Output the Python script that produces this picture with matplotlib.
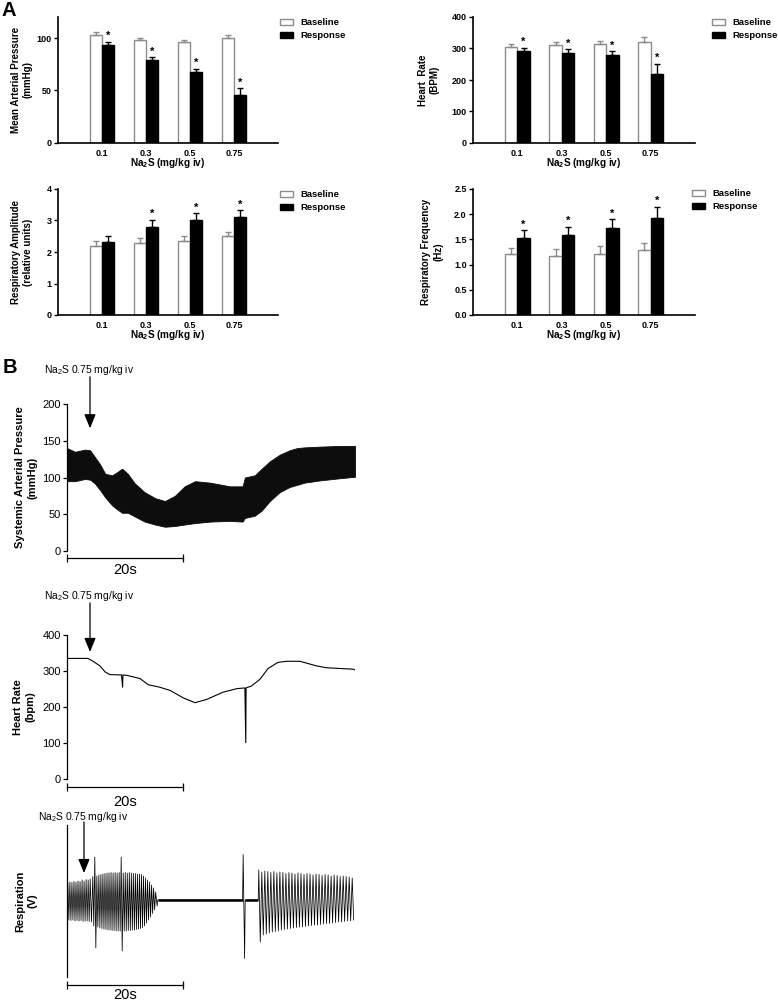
import numpy as np
import matplotlib
matplotlib.use("Agg")
import matplotlib.pyplot as plt

plt.rcParams["font.family"] = ["Liberation Sans", "DejaVu Sans"]
plt.rcParams["mathtext.fontset"] = "custom"
plt.rcParams["mathtext.rm"] = "Liberation Sans"
plt.rcParams["mathtext.bf"] = "Liberation Sans:bold"
plt.rcParams["mathtext.default"] = "regular"

# ---- Panel A data (mean, upper SEM) ----
doses = ["0.1", "0.3", "0.5", "0.75"]

map_base = [103, 98, 96, 100]
map_base_err = [3, 2, 2, 2.5]
map_resp = [93, 79.5, 67.5, 46]
map_resp_err = [3.5, 2, 3, 6]
map_sig = [True, True, True, True]

hr_base = [305, 310, 313, 320]
hr_base_err = [8, 10, 10, 15]
hr_resp = [293, 287, 278, 220]
hr_resp_err = [10, 10, 13, 32]
hr_sig = [True, True, True, True]

ra_base = [2.18, 2.28, 2.35, 2.50]
ra_base_err = [0.17, 0.16, 0.15, 0.15]
ra_resp = [2.32, 2.78, 3.00, 3.10]
ra_resp_err = [0.18, 0.25, 0.23, 0.23]
ra_sig = [False, True, True, True]

rf_base = [1.22, 1.18, 1.21, 1.28]
rf_base_err = [0.10, 0.13, 0.15, 0.14]
rf_resp = [1.53, 1.58, 1.72, 1.93]
rf_resp_err = [0.15, 0.17, 0.18, 0.22]
rf_sig = [True, True, True, True]

# ---- Panel B data (time in s) ----
# systemic arterial pressure envelope (upper / lower of pulsatile trace)
sap_t = [0, 1.4, 3.1, 4.0, 4.8, 5.7, 6.6, 7.8, 8.6, 9.5, 10.5, 11.7, 13.4, 15.2, 16.9, 18.6,
         20.3, 22.1, 24.7, 28.1, 30.3, 30.7, 32.4, 33.6, 35.0, 36.7, 38.4, 39.7, 41.0, 43.6, 47.1, 49.7]
sap_up = [140, 135, 138, 137, 128, 118, 105, 103, 107, 112, 105, 92, 80, 72, 68, 75,
          88, 95, 93, 88, 88, 100, 103, 112, 122, 131, 137, 140, 141, 142, 143, 143]
sap_low = [95, 95, 98, 97, 92, 83, 73, 62, 57, 52, 52, 47, 40, 36, 33, 34,
           36, 38, 40, 41, 40, 45, 48, 55, 68, 80, 87, 90, 93, 96, 99, 101]

# heart rate trace
hr_t = [0, 3.6, 4.5, 5.7, 6.6, 7.4, 9.4, 9.6, 9.65, 10.3, 12.6, 14.0, 16.0, 17.8, 20.1, 22.1,
        24.1, 26.9, 29.3, 30.7, 30.85, 30.9, 31.8, 33.3, 34.7, 36.4, 37.9, 40.2, 43.1, 44.8, 49.4, 49.7]
hr_bpm = [335, 335, 327, 314, 297, 290, 289, 255, 289, 288, 279, 262, 255, 246, 225, 212,
          221, 241, 251, 253, 101, 253, 258, 277, 307, 324, 327, 327, 314, 309, 305, 303]

# respiration: breath times with peak / trough amplitudes
resp_t = [0.15, 0.5, 0.85, 1.2, 1.55, 1.9, 2.25, 2.6, 2.95, 3.3, 3.65, 4.0,
          4.45, 4.80, 5.15, 5.50, 5.85, 6.20, 6.55, 6.90, 7.25, 7.60, 7.95, 8.30, 8.65, 9.00, 9.35, 9.70,
          10.05, 10.40, 10.75, 11.10, 11.45, 11.80, 12.15, 12.50, 12.85, 13.20, 13.55, 13.90, 14.25, 14.60,
          14.95, 15.30,
          30.4,
          33.10, 33.62, 34.14, 34.66, 35.18, 35.70, 36.22, 36.74, 37.26, 37.78, 38.30, 38.82, 39.34, 39.86,
          40.38, 40.90, 41.42, 41.94, 42.46, 42.98, 43.50, 44.02, 44.54, 45.06, 45.58, 46.10, 46.62, 47.14,
          47.66, 48.18, 48.70, 49.22]
resp_top = [0.34, 0.36, 0.35, 0.37, 0.36, 0.38, 0.37, 0.40, 0.38, 0.41, 0.40, 0.42,
            0.47, 0.86, 0.48, 0.50, 0.51, 0.52, 0.53, 0.54, 0.54, 0.55, 0.54, 0.55, 0.54, 0.55, 0.86, 0.54,
            0.55, 0.54, 0.55, 0.54, 0.53, 0.53, 0.52, 0.52, 0.51, 0.48, 0.44, 0.40, 0.36, 0.30, 0.24, 0.16,
            0.91,
            0.60, 0.56, 0.58, 0.57, 0.55, 0.57, 0.54, 0.56, 0.55, 0.53, 0.55, 0.54, 0.52, 0.54, 0.53, 0.51,
            0.53, 0.52, 0.50, 0.52, 0.51, 0.49, 0.51, 0.50, 0.48, 0.50, 0.49, 0.47, 0.48, 0.47, 0.46, 0.44]
resp_bot = [-0.40, -0.41, -0.40, -0.42, -0.41, -0.42, -0.41, -0.43, -0.42, -0.42, -0.43, -0.44,
            -0.52, -0.96, -0.54, -0.56, -0.57, -0.58, -0.59, -0.60, -0.60, -0.61, -0.61, -0.62, -0.62, -0.62,
            -1.02, -0.62, -0.62, -0.61, -0.61, -0.60, -0.60, -0.59, -0.58, -0.57, -0.55, -0.52, -0.46, -0.40,
            -0.34, -0.27, -0.20, -0.12,
            -1.17,
            -0.84, -0.70, -0.68, -0.66, -0.64, -0.63, -0.62, -0.60, -0.59, -0.58, -0.57, -0.56, -0.55, -0.54,
            -0.54, -0.53, -0.52, -0.51, -0.50, -0.50, -0.49, -0.48, -0.47, -0.47, -0.46, -0.45, -0.44, -0.44,
            -0.43, -0.42, -0.42, -0.40]

inject_label = "Na$_2$S 0.75 mg/kg iv"
grey = "#8c8c8c"

W, H = 778, 1001
fig = plt.figure(figsize=(W / 100, H / 100), dpi=100)


def px_rect(left, top, right, bottom):
    return [left / W, 1 - bottom / H, (right - left) / W, (bottom - top) / H]


def bar_panel(rect, base, base_err, resp, resp_err, sig, ymax, yticks, ylabel, ylab_x, leg_px):
    ax = fig.add_axes(rect)
    x = np.arange(1, len(doses) + 1)
    w = 0.28
    zeros = np.zeros(len(doses))
    ax.bar(x - w / 2, base, w, color="white", edgecolor=grey, linewidth=1, label="Baseline", zorder=2)
    ax.bar(x + w / 2, resp, w, color="black", edgecolor="black", linewidth=1, label="Response", zorder=2)
    ax.errorbar(x - w / 2, base, yerr=[zeros, base_err], fmt="none", ecolor=grey,
                elinewidth=1, capsize=2.2, capthick=1, zorder=3)
    ax.errorbar(x + w / 2, resp, yerr=[zeros, resp_err], fmt="none", ecolor="black",
                elinewidth=1, capsize=2.2, capthick=1, zorder=3)
    for xi, v, e, s in zip(x + w / 2, resp, resp_err, sig):
        if s:
            ax.annotate("*", (xi, v + e), xytext=(0, 0.5), textcoords="offset points",
                        ha="center", va="bottom", fontsize=8, fontweight="bold")
    ax.set_xlim(0, 5)
    ax.set_ylim(0, ymax)
    ax.set_yticks(yticks)
    ax.set_xticks(x)
    ax.set_xticklabels(doses)
    for sp in ["top", "right"]:
        ax.spines[sp].set_visible(False)
    for sp in ["left", "bottom"]:
        ax.spines[sp].set_linewidth(1.2)
    ax.tick_params(axis="y", direction="out", length=3, width=1, labelsize=6.5, pad=1.5)
    ax.tick_params(axis="x", length=0, labelsize=6.5, pad=4)
    for lab in ax.get_xticklabels() + ax.get_yticklabels():
        lab.set_fontweight("bold")
    ax.set_ylabel(ylabel, fontsize=7, fontweight="bold")
    ax.yaxis.set_label_coords(ylab_x, 0.5)
    ax.set_xlabel("Na$_2$S (mg/kg iv)", fontsize=7.2, fontweight="bold")
    ax.xaxis.set_label_coords(0.5, -0.105)
    ax.legend(loc="upper left", bbox_to_anchor=(leg_px[0] / W, 1 - leg_px[1] / H),
              bbox_transform=fig.transFigure, frameon=False, borderpad=0, borderaxespad=0,
              handlelength=1.35, handleheight=0.6, handletextpad=0.8, labelspacing=0.45,
              prop={"size": 6.8, "weight": "bold"})
    return ax


bar_panel(px_rect(58, 17, 278, 143), map_base, map_base_err, map_resp, map_resp_err, map_sig,
          120, [0, 50, 100], "Mean Arterial Pressure\n(mmHg)", -0.114, (280, 18))
bar_panel(px_rect(473, 17, 695, 143), hr_base, hr_base_err, hr_resp, hr_resp_err, hr_sig,
          400, [0, 100, 200, 300, 400], "Heart  Rate\n(BPM)", -0.149, (712, 18))
bar_panel(px_rect(58, 189, 278, 315), ra_base, ra_base_err, ra_resp, ra_resp_err, ra_sig,
          4, [0, 1, 2, 3, 4], "Respiratory Amplitude\n(relative units)", -0.114, (280, 190))
bar_panel(px_rect(473, 189, 695, 315), rf_base, rf_base_err, rf_resp, rf_resp_err, rf_sig,
          2.5, [0.0, 0.5, 1.0, 1.5, 2.0, 2.5], "Respiratory Frequency\n(Hz)", -0.135, (692, 189))
for ax in fig.axes[3:4]:
    ax.yaxis.set_major_formatter(matplotlib.ticker.FormatStrFormatter("%.1f"))

fig.text(2 / W, 1 - 1 / H, "A", fontsize=14.5, fontweight="bold", va="top", ha="left")
fig.text(3 / W, 1 - 358 / H, "B", fontsize=14.5, fontweight="bold", va="top", ha="left")


def trace_axes(rect, ylim, ylabel, ylab_x, yticks, bar_y, txt_y, arrow_x, arrow_from, arrow_to, label_y):
    ax = fig.add_axes(rect)
    ax.set_xlim(0, 49.7)
    ax.set_ylim(*ylim)
    for sp in ["top", "right", "bottom"]:
        ax.spines[sp].set_visible(False)
    ax.spines["left"].set_linewidth(0.9)
    ax.set_xticks([])
    if yticks is None:
        ax.set_yticks([])
    else:
        ax.set_yticks(yticks)
        ax.tick_params(axis="y", direction="out", length=3, width=0.9, labelsize=8, pad=1.5)
    ax.set_ylabel(ylabel, fontsize=8, fontweight="bold")
    ax.yaxis.set_label_coords(ylab_x, 0.5)
    # 20 s scale bar
    ax.plot([0, 20], [bar_y, bar_y], color="black", lw=0.9, marker="|", ms=6, mew=0.9, clip_on=False)
    ax.text(10, txt_y, "20s", fontsize=10.5, ha="center", va="center")
    ax.annotate("", xy=(arrow_x, arrow_to), xytext=(arrow_x, arrow_from),
                arrowprops=dict(arrowstyle="-|>,head_length=0.85,head_width=0.35", mutation_scale=10,
                                color="black", lw=0.9, shrinkA=0, shrinkB=0))
    ax.text(arrow_x - 0.15, label_y, inject_label, fontsize=7.4, ha="center", va="center")
    return ax


ax = trace_axes(px_rect(67, 404, 355, 551), (0, 200), "Systemic Arterial Pressure\n(mmHg)", -0.104,
                [0, 50, 100, 150, 200], -9.5, -26, 3.97, 237, 167, 246)
ax.fill_between(sap_t, sap_low, sap_up, color="#0d0d0d", lw=0.6)

ax = trace_axes(px_rect(67, 635, 355, 779), (0, 400), "Heart Rate\n(bpm)", -0.111,
                [0, 100, 200, 300, 400], -22, -64, 3.97, 489, 353, 508)
ax.plot(hr_t, hr_bpm, color="black", lw=0.8)

ax = trace_axes(px_rect(67, 825, 355, 977), (-1.54, 1.5), "Respiration\n(V)", -0.104,
                None, -1.70, -1.90, 2.93, 1.56, 0.54, 1.66)
xs, ys = [0.0], [0.0]
flats = []
for i, (t, a, b) in enumerate(zip(resp_t, resp_top, resp_bot)):
    gap_next = resp_t[i + 1] - t if i + 1 < len(resp_t) else 0.5
    half = min(gap_next, 0.5) / 2
    if i > 0 and t - resp_t[i - 1] > 1:
        xs.append(t - 0.1)
        ys.append(0.0)
    xs += [t, t + half]
    ys += [a, b]
    if gap_next > 1:
        xs.append(t + half + 0.1)
        ys.append(0.0)
        flats.append((t + half + 0.1, resp_t[i + 1] - 0.1))
ax.plot(xs, ys, color="black", lw=0.55)
for f0, f1 in flats:
    ax.plot([f0, f1], [0, 0], color="black", lw=1.8, solid_capstyle="butt")

fig.savefig("out.png", dpi=100)
